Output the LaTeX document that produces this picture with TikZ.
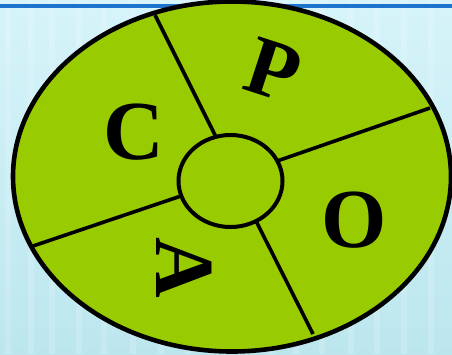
\documentclass[tikz,border=0pt]{standalone}
\usepackage{fontspec}
\setmainfont{Liberation Serif}
\usetikzlibrary{shapes.geometric,calc}
\definecolor{bgtop}{RGB}{214,244,249}
\definecolor{bgbot}{RGB}{188,230,238}
\definecolor{rule}{RGB}{30,115,205}
\definecolor{leaf}{RGB}{153,204,0}
\tikzset{
  divider/.style={line width=3.6pt, black},
  rim/.style={line width=4.6pt, black},
  letter/.style={inner sep=0pt, font=\fontsize{84}{84}\selectfont\bfseries},
  stripe/.style={white, opacity=0.16, line width=6pt}
}
\begin{document}
\begin{tikzpicture}[x=1pt,y=-1pt]
  % background
  \shade[top color=bgtop, bottom color=bgbot] (0,0) rectangle (452,354);
  \useasboundingbox (0,0) rectangle (452,354);
  \foreach \sx in {8,31,52,79,104,133,161,188,214,243,271,296,322,351,377,404,431}
    \draw[stripe] (\sx,0) -- (\sx,354);
  % top rule
  \draw[rule, line width=3.2pt] (0,6) -- (452,6);
  % main ellipse fill
  \fill[leaf] (232,176.5) ellipse [x radius=219, y radius=175];
  % outer points on the rim
  \coordinate (o1) at (155,15);
  \coordinate (o2) at (430,108);
  \coordinate (o3) at (33,246);
  \coordinate (o4) at (313,334);
  % inner points (hidden under the hub)
  \coordinate (i1) at (219.5,144);
  \coordinate (i2) at (270.5,163.3);
  \coordinate (i3) at (187.5,193.8);
  \coordinate (i4) at (253.5,216);
  \draw[divider] (o1) -- (i1);
  \draw[divider] (o2) -- (i2);
  \draw[divider] (o3) -- (i3);
  \draw[divider] (o4) -- (i4);
  % hub
  \node[ellipse, draw, line width=4pt, fill=leaf, minimum width=104pt, minimum height=92pt, inner sep=0pt] (hub) at (230.5,181) {};
  % rim
  \draw[rim] (232,176.5) ellipse [x radius=219, y radius=175];
  % letters
  \node[letter, rotate=-18] (P) at (273,70) {P};
  \node[letter] (C) at (134,132) {C};
  \node[letter, rotate=-90] (A) at (184,268) {A};
  \node[letter] (O) at (354,220) {O};
\end{tikzpicture}
\end{document}
